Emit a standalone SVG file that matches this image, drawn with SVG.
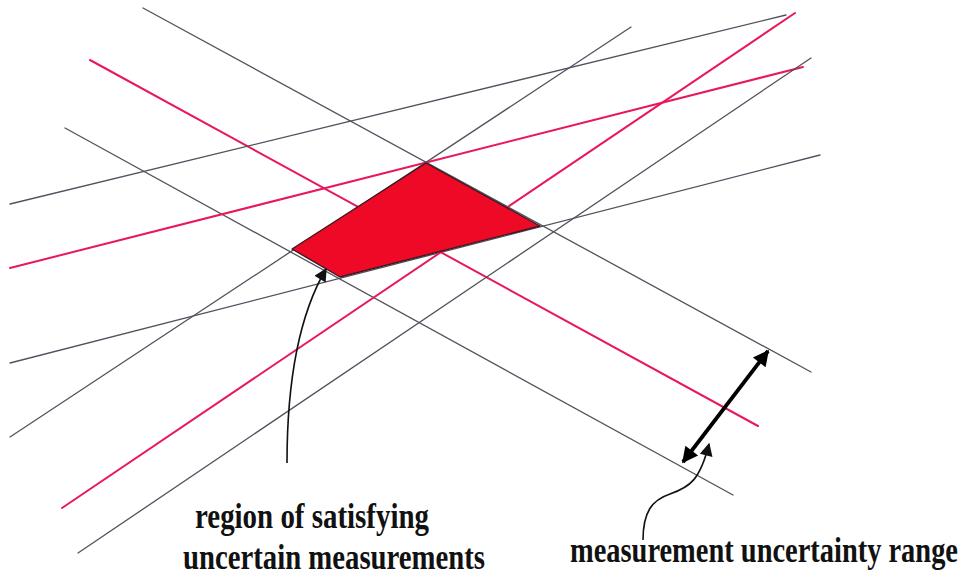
<svg xmlns="http://www.w3.org/2000/svg" width="966" height="577" viewBox="0 0 966 577">
  <style>
    .bound { stroke: #52525f; stroke-width: 1.3; fill: none; stroke-linecap: round; }
    .nominal { stroke: #e8185a; stroke-width: 2; fill: none; stroke-linecap: round; }
    .region { fill: #ee0a26; stroke: #3a1a1e; stroke-width: 1.4; stroke-linejoin: round; }
    .pointer { stroke: #111; stroke-width: 1.6; fill: none; }
    .range { stroke: #000; stroke-width: 3.8; fill: none; }
    .label { font-family: "Liberation Serif", "Times New Roman", serif; font-weight: bold; font-size: 29px; fill: #111; }
  </style>
  <defs>
    <marker id="headSmall" viewBox="0 0 10 10" refX="9" refY="5" markerUnits="userSpaceOnUse" markerWidth="17" markerHeight="13" orient="auto">
      <path d="M0,0 L10,5 L0,10 z" fill="#111"/>
    </marker>
    <marker id="headBig" viewBox="0 0 10 10" refX="9" refY="5" markerUnits="userSpaceOnUse" markerWidth="21" markerHeight="16" orient="auto-start-reverse">
      <path d="M0,0 L10,5 L0,10 z" fill="#000"/>
    </marker>
  </defs>

  <g id="connectors">
    <!-- family 1: descending -->
    <line class="bound" x1="143" y1="8" x2="811" y2="372"/>
    <line class="nominal" x1="90" y1="60" x2="758" y2="426"/>
    <line class="bound" x1="65" y1="128" x2="733" y2="495"/>
    <!-- family 2: shallow rising -->
    <line class="bound" x1="10" y1="204" x2="786" y2="15"/>
    <line class="nominal" x1="10" y1="268" x2="803" y2="67"/>
    <line class="bound" x1="10" y1="363" x2="820" y2="155"/>
    <!-- family 3: steep rising -->
    <line class="bound" x1="631" y1="27" x2="10" y2="437"/>
    <line class="nominal" x1="795" y1="13" x2="62" y2="508"/>
    <line class="bound" x1="811" y1="58" x2="78" y2="553"/>
  </g>

  <g id="feasible-region">
    <polygon class="region" points="426,163 540,226 340,277 292,249"/>
  </g>

  <g id="range-arrow">
    <line class="range" x1="683" y1="462" x2="768" y2="351" marker-start="url(#headBig)" marker-end="url(#headBig)"/>
  </g>

  <g id="label-region">
    <path class="pointer" d="M287,463 C287,395 296,320 326,269" marker-end="url(#headSmall)"/>
    <g transform="scale(1,1.2)">
      <text class="label" x="195" y="440" textLength="234" lengthAdjust="spacingAndGlyphs">region of satisfying</text>
      <text class="label" x="183" y="474" textLength="302" lengthAdjust="spacingAndGlyphs">uncertain measurements</text>
    </g>
  </g>

  <g id="label-range">
    <path class="pointer" d="M643,540 C643,512 652,500 670,494 C690,487 700,480 709,444" marker-end="url(#headSmall)"/>
    <g transform="scale(1,1.2)">
      <text class="label" x="570" y="468" textLength="388" lengthAdjust="spacingAndGlyphs">measurement uncertainty range</text>
    </g>
  </g>
</svg>
